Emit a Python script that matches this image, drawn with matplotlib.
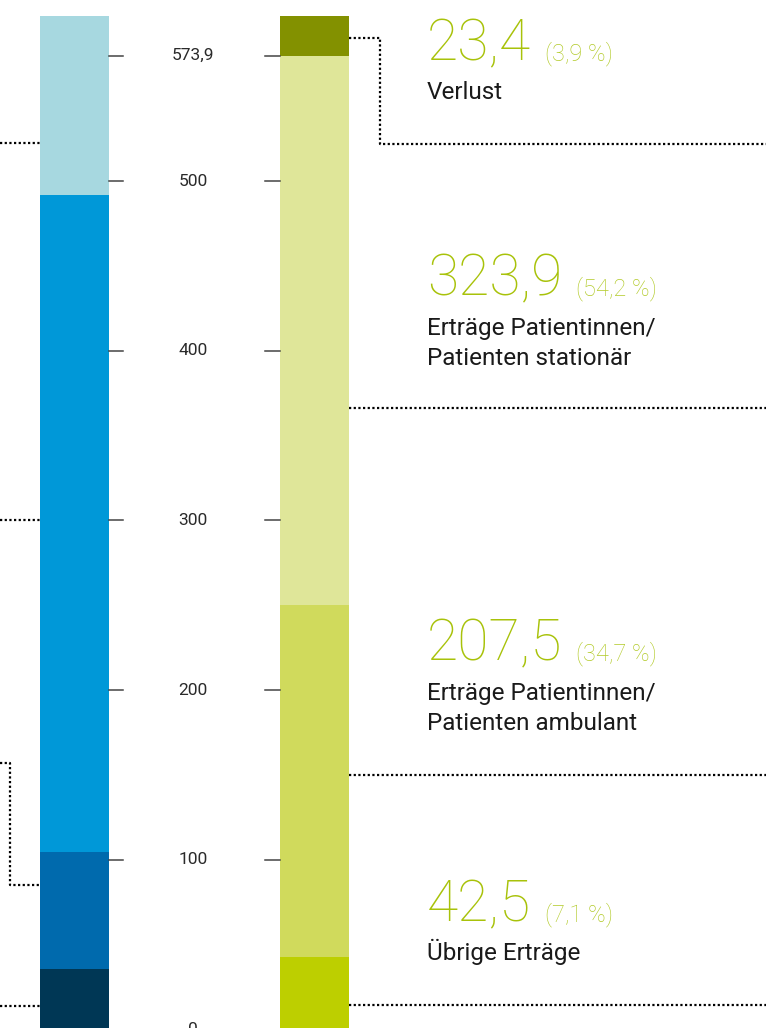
import matplotlib
matplotlib.use("Agg")
import matplotlib.pyplot as plt

# Aufwand (links, von unten nach oben) und Ertrag (rechts, von unten nach oben), Mio. CHF
aufwand_werte = [35.7, 68.9, 387.2, 105.3]
aufwand_farben = ["#003755", "#006AAD", "#0098D8", "#A7D8E0"]

ertrag_werte = [42.5, 207.5, 323.9, 23.4]
ertrag_farben = ["#BDCF00", "#D0DA5C", "#DFE699", "#839100"]
ertrag_zahlen = ["42,5", "207,5", "323,9", "23,4"]
ertrag_prozent = ["(7,1 %)", "(34,7 %)", "(54,2 %)", "(3,9 %)"]
ertrag_namen = ["Übrige Erträge",
                "Erträge Patientinnen/\nPatienten ambulant",
                "Erträge Patientinnen/\nPatienten stationär",
                "Verlust"]

ticks = [0, 100, 200, 300, 400, 500, 573.9]
tick_labels = ["0", "100", "200", "300", "400", "500", "573,9"]

# Hilfslinien (y-Werte in Mio.)
links_linien = [522.4, 300.3, 14.0]
links_klammer = (157.0, 85.2)
rechts_linien = [366.2, 150.0, 14.4]
rechts_klammer = (584.5, 521.8)

W, H = 766, 1028
fig = plt.figure(figsize=(W / 100, H / 100), dpi=100)
ax = fig.add_axes([0, 0, 1, 1])
ax.set_xlim(0, W)
Y0, S = 1029.5, 1.697  # pixel of value 0, pixel per unit
ax.set_ylim((Y0 - H) / S, Y0 / S)
ax.axis("off")

font = ["Roboto", "DejaVu Sans"]
gruen = "#A8C20A"

def py(p):
    # pixel from top -> figure fraction
    return 1 - p / H

# Balken
bottom = 0
for v, c in zip(aufwand_werte, aufwand_farben):
    ax.bar(74.5, v, width=69, bottom=bottom, color=c, linewidth=0)
    bottom += v
bottom = 0
for v, c in zip(ertrag_werte, ertrag_farben):
    ax.bar(314.5, v, width=69, bottom=bottom, color=c, linewidth=0)
    bottom += v

# Skala in der Mitte
for t, lab in zip(ticks, tick_labels):
    ax.plot([109, 123], [t, t], color="#444444", lw=1.1)
    ax.plot([265, 280], [t, t], color="#444444", lw=1.1)
    ax.text(193, t, lab, ha="center", va="center", fontsize=12.5,
            color="#2A2A2A", family=font)

dots = dict(color="black", lw=1.6, linestyle=(0, (1, 1.1)), dash_capstyle="butt")

# linke Hilfslinien
for y in links_linien:
    ax.plot([0, 40], [y, y], **dots)
ax.plot([0, 10, 10, 40], [links_klammer[0], links_klammer[0],
                          links_klammer[1], links_klammer[1]], **dots)

# rechte Hilfslinien
for y in rechts_linien:
    ax.plot([349, W], [y, y], **dots)
ax.plot([349, 380, 380, W], [rechts_klammer[0], rechts_klammer[0],
                             rechts_klammer[1], rechts_klammer[1]], **dots)

# Beschriftungen rechts (Grundlinien in Pixel von oben; letzte Zeile bei Namen)
zahl_basis = [921, 660, 295, 60]
name_basis = [960, 730, 365, 99]

fig.canvas.draw()
renderer = fig.canvas.get_renderer()
for zahl, proz, name, zb, nb in zip(ertrag_zahlen, ertrag_prozent, ertrag_namen,
                                    zahl_basis, name_basis):
    t = fig.text(427 / W, py(zb), zahl, fontsize=41, color=gruen, family=font,
                 fontweight="light", va="baseline", ha="left")
    x1 = t.get_window_extent(renderer).x1
    fig.text((x1 + 14) / W, py(zb), proz, fontsize=17, color="#B2CA28",
             family=font, fontweight="light", va="baseline", ha="left")
    fig.text(427 / W, py(nb), name, fontsize=17.5, color="#1A1A1A", family=font,
             va="baseline", ha="left", linespacing=1.38)

plt.savefig("out.png", dpi=100)
